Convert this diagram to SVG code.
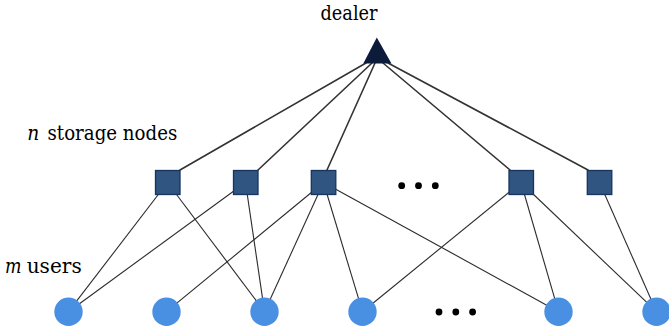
<svg xmlns="http://www.w3.org/2000/svg" width="669" height="333" viewBox="0 0 669 333">
<style>
.lbl{font-family:'DejaVu Serif',serif;font-size:21px;fill:#000}
.it{font-style:italic}
.dl{stroke:#333;stroke-width:1.6;fill:none;stroke-linecap:round}
.ul{stroke:#2b2b2b;stroke-width:1.1;fill:none}
.sq{fill:#2f5580;stroke:#17345f;stroke-width:1.3}
.usr{fill:#4a90e2}
.tri{fill:#0c1b3a}
.dot{fill:#000}
</style>
<rect width="669" height="333" fill="#fff"/>
<g id="connectors">
  <line class="dl" x1="366" y1="63" x2="180" y2="170"/>
  <line class="dl" x1="372" y1="63" x2="258" y2="170"/>
  <line class="dl" x1="375" y1="63" x2="327" y2="170"/>
  <line class="dl" x1="383" y1="63" x2="510" y2="170"/>
  <line class="dl" x1="388" y1="63" x2="588" y2="170"/>
  <line class="ul" x1="167.5" y1="182.5" x2="68.5" y2="311.7"/>
  <line class="ul" x1="167.5" y1="182.5" x2="264.5" y2="311.7"/>
  <line class="ul" x1="245.5" y1="182.5" x2="68.5" y2="311.7"/>
  <line class="ul" x1="245.5" y1="182.5" x2="264.5" y2="311.7"/>
  <line class="ul" x1="323.5" y1="182.5" x2="166.5" y2="311.7"/>
  <line class="ul" x1="323.5" y1="182.5" x2="264.5" y2="311.7"/>
  <line class="ul" x1="323.5" y1="182.5" x2="362.5" y2="311.7"/>
  <line class="ul" x1="323.5" y1="182.5" x2="558.5" y2="311.7"/>
  <line class="ul" x1="521" y1="182.5" x2="362.5" y2="311.7"/>
  <line class="ul" x1="521" y1="182.5" x2="558.5" y2="311.7"/>
  <line class="ul" x1="521" y1="182.5" x2="656.5" y2="311.7"/>
  <line class="ul" x1="599.5" y1="182.5" x2="656.5" y2="311.7"/>
</g>
<g id="dealer">
  <polygon class="tri" points="376.8,37.5 363.3,63.5 391.5,63.5"/>
  <text class="lbl" x="320.5" y="19.5" textLength="57" lengthAdjust="spacingAndGlyphs">dealer</text>
</g>
<g id="sn1"><rect class="sq" x="155.5" y="170.5" width="24.5" height="24"/></g>
<g id="sn2"><rect class="sq" x="233.5" y="170.5" width="24.5" height="24"/></g>
<g id="sn3"><rect class="sq" x="311.3" y="170.5" width="24.5" height="24"/></g>
<g id="sn4"><rect class="sq" x="509" y="170.5" width="24.5" height="24"/></g>
<g id="sn5"><rect class="sq" x="587.3" y="170.5" width="24.5" height="24"/></g>
<g id="u1"><circle class="usr" cx="68.5" cy="311.7" r="14.2"/></g>
<g id="u2"><circle class="usr" cx="166.5" cy="311.7" r="14.2"/></g>
<g id="u3"><circle class="usr" cx="264.5" cy="311.7" r="14.2"/></g>
<g id="u4"><circle class="usr" cx="362.5" cy="311.7" r="14.2"/></g>
<g id="u5"><circle class="usr" cx="558.5" cy="311.7" r="14.2"/></g>
<g id="u6"><circle class="usr" cx="656.5" cy="311.7" r="14.2"/></g>
<g id="ellipsis-nodes">
  <circle class="dot" cx="401.7" cy="185.7" r="3.4"/>
  <circle class="dot" cx="418.5" cy="185.7" r="3.4"/>
  <circle class="dot" cx="435.3" cy="185.7" r="3.4"/>
</g>
<g id="ellipsis-users">
  <circle class="dot" cx="439" cy="312" r="3.4"/>
  <circle class="dot" cx="455.8" cy="312" r="3.4"/>
  <circle class="dot" cx="472.6" cy="312" r="3.4"/>
</g>
<g id="labels">
  <text class="lbl it" x="27.3" y="139.5" textLength="12" lengthAdjust="spacingAndGlyphs">n</text>
  <text class="lbl" x="47.5" y="139.5" textLength="129.8" lengthAdjust="spacingAndGlyphs">storage nodes</text>
  <text class="lbl it" x="5" y="273.3" textLength="16.5" lengthAdjust="spacingAndGlyphs">m</text>
  <text class="lbl" x="26.7" y="273.3" textLength="55" lengthAdjust="spacingAndGlyphs">users</text>
</g>
</svg>
